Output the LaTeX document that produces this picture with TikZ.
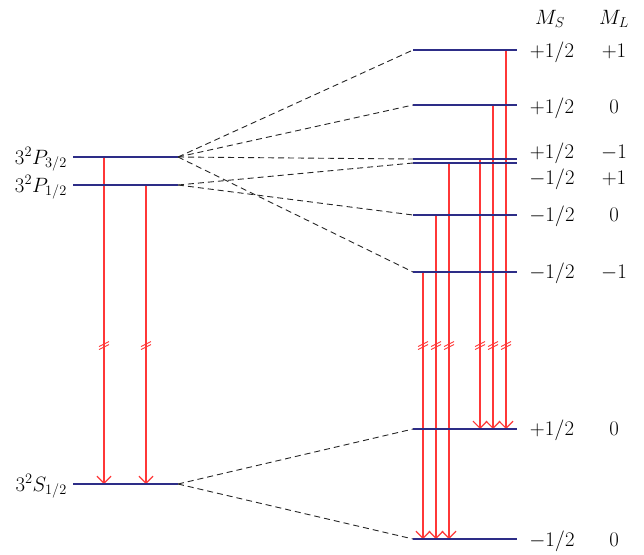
\documentclass[tikz,border=0pt]{standalone}
\usetikzlibrary{arrows.meta}
\definecolor{lev}{RGB}{45,45,135}
\definecolor{trc}{RGB}{255,55,55}
\tikzset{
  levline/.style={draw=lev, line width=1.6pt},
  conn/.style={draw=black!85, dash pattern=on 6pt off 4pt, line width=0.9pt},
  trans/.style={draw=trc, line width=1.2pt, -{Straight Barb[length=7pt,width=14pt]}},
  lab/.style={font=\fontsize{20}{23}\selectfont, inner sep=0pt},
  hlab/.style={font=\fontsize{21}{24}\selectfont, inner sep=0pt},
  llab/.style={font=\fontsize{20.5}{24}\selectfont, inner sep=0pt},
  brk/.pic={\draw[trc, line width=0.9pt] (-5,1.5)--(5,-3.5) (-5,4.5)--(5,-0.5);}
}
\begin{document}
\begin{tikzpicture}[x=1pt,y=-1pt]
\path[use as bounding box] (0,0) rectangle (644,554);
% left levels
\coordinate (P3L) at (73,157); \coordinate (P3R) at (178,157);
\coordinate (P1L) at (73,185); \coordinate (P1R) at (178,185);
\coordinate (S1L) at (73,484); \coordinate (S1R) at (178,484);
% right levels
\coordinate (aL) at (413,50);  \coordinate (aR) at (517,50);
\coordinate (bL) at (413,105); \coordinate (bR) at (517,105);
\coordinate (cL) at (413,159); \coordinate (cR) at (517,159);
\coordinate (dL) at (413,163); \coordinate (dR) at (517,163);
\coordinate (eL) at (413,215); \coordinate (eR) at (517,215);
\coordinate (fL) at (413,272); \coordinate (fR) at (517,272);
\coordinate (gL) at (413,429); \coordinate (gR) at (517,429);
\coordinate (hL) at (413,539); \coordinate (hR) at (517,539);
% connectors
\draw[conn] (P3R) -- (aL);
\draw[conn] (P3R) -- (bL);
\draw[conn] (P3R) -- (cL);
\draw[conn] (P3R) -- (fL);
\draw[conn] (P1R) -- (dL);
\draw[conn] (P1R) -- (eL);
\draw[conn] (S1R) -- (gL);
\draw[conn] (S1R) -- (hL);
% transitions
\coordinate (s1) at (104,157); \coordinate (e1) at (104,484);
\coordinate (s2) at (146,185); \coordinate (e2) at (146,484);
\coordinate (s3) at (506,50);  \coordinate (e3) at (506,429);
\coordinate (s4) at (493,105); \coordinate (e4) at (493,429);
\coordinate (s5) at (480,159); \coordinate (e5) at (480,429);
\coordinate (s6) at (449,163); \coordinate (e6) at (449,539);
\coordinate (s7) at (436,215); \coordinate (e7) at (436,539);
\coordinate (s8) at (423,272); \coordinate (e8) at (423,539);
\foreach \i in {1,...,8} {\draw[trans] (s\i) -- (e\i);}
\foreach \x in {104,146,423,436,449,480,493,506} {\pic at (\x,345) {brk};}
% levels
\foreach \n in {P3,P1,S1,a,b,c,d,e,f,g,h} {\draw[levline] (\n L) -- (\n R);}
% left labels
\node[llab, anchor=base east] (lP3) at (67,164) {$3^2P_{3/2}$};
\node[llab, anchor=base east] (lP1) at (67,192) {$3^2P_{1/2}$};
\node[llab, anchor=base east] (lS1) at (67,491) {$3^2S_{1/2}$};
% header
\node[hlab, anchor=base] (hMS) at (550,24) {$M_S$};
\node[hlab, anchor=base] (hML) at (614,24) {$M_L$};
% right labels
\node[lab, anchor=base] (ma) at (552,57)  {$+1/2$}; \node[lab, anchor=base] (la) at (614,57)  {$+1$};
\node[lab, anchor=base] (mb) at (552,113) {$+1/2$}; \node[lab, anchor=base] (lb) at (614,113) {$0$};
\node[lab, anchor=base] (mc) at (552,158) {$+1/2$}; \node[lab, anchor=base] (lc) at (614,158) {$-1$};
\node[lab, anchor=base] (md) at (552,184) {$-1/2$}; \node[lab, anchor=base] (ld) at (614,184) {$+1$};
\node[lab, anchor=base] (me) at (552,221) {$-1/2$}; \node[lab, anchor=base] (le) at (614,221) {$0$};
\node[lab, anchor=base] (mf) at (552,278) {$-1/2$}; \node[lab, anchor=base] (lf) at (614,278) {$-1$};
\node[lab, anchor=base] (mg) at (552,435) {$+1/2$}; \node[lab, anchor=base] (lg) at (614,435) {$0$};
\node[lab, anchor=base] (mh) at (552,546) {$-1/2$}; \node[lab, anchor=base] (lh) at (614,546) {$0$};
\end{tikzpicture}
\end{document}
